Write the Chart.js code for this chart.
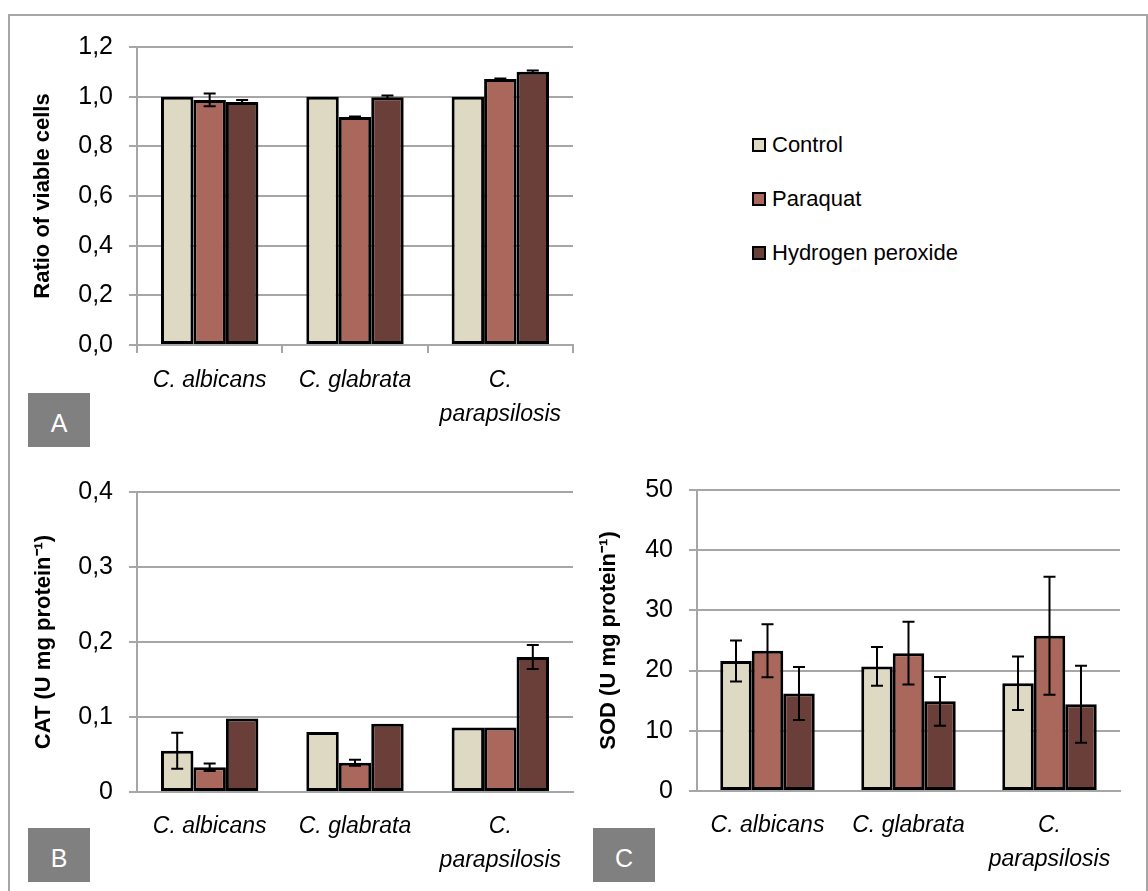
<!DOCTYPE html>
<html>
<head>
<meta charset="utf-8">
<script src="https://cdn.jsdelivr.net/npm/chart.js@4.4.1/dist/chart.umd.min.js"></script>
<style>
    body { margin: 0; background: #fff; width: 1148px; height: 891px; overflow: hidden; position: relative; font-family: "Liberation Sans", Arial, sans-serif; }
    .frame { position: absolute; left: 8px; top: 14px; width: 1136px; height: 900px; border: 2px solid #a6a6a6; }
    .panel { position: absolute; width: 62px; height: 54px; background: #808080; color: #fff; font-size: 25px; line-height: 60px; text-align: center; }
    canvas { position: absolute; }
    .legend { position: absolute; left: 752px; top: 131px; font-size: 22px; color: #000; }
    .legend div { height: 54px; line-height: 28px; }
    .legend span { display: inline-block; width: 10px; height: 10px; border: 2px solid #000; margin-right: 6px; vertical-align: 0px; }
</style>
</head>
<body>
<div class="frame"></div>
<canvas id="chartA" width="580" height="423" style="left:10px;top:16px"></canvas>
<canvas id="chartB" width="580" height="424" style="left:10px;top:461px"></canvas>
<canvas id="chartC" width="550" height="426" style="left:590px;top:459px"></canvas>
<div class="legend" id="legend"></div>
<div class="panel" style="left:28px;top:393px">A</div>
<div class="panel" style="left:28px;top:828px">B</div>
<div class="panel" style="left:593px;top:828px">C</div>
<script>
var categories = ['C. albicans', 'C. glabrata', ['C.', 'parapsilosis']]
var seriesNames = ['Control', 'Paraquat', 'Hydrogen peroxide']
var seriesColors = ['#ddd9c3', '#aa675b', '#6b3f39']

// A - ratio of viable cells
var viableControl = [1.0, 1.0, 1.0]
var viableParaquat = [0.987, 0.918, 1.071]
var viablePeroxide = [0.979, 0.998, 1.100]
var viableControlErr = [0, 0, 0]
var viableParaquatErr = [0.026, 0.002, 0.002]
var viablePeroxideErr = [0.008, 0.007, 0.005]

// B - CAT activity
var catControl = [0.055, 0.080, 0.086]
var catParaquat = [0.033, 0.039, 0.086]
var catPeroxide = [0.098, 0.091, 0.180]
var catControlErr = [0.024, 0, 0]
var catParaquatErr = [0.005, 0.004, 0]
var catPeroxideErr = [0, 0, 0.016]

// C - SOD activity
var sodControl = [21.6, 20.7, 17.9]
var sodParaquat = [23.3, 22.9, 25.8]
var sodPeroxide = [16.2, 14.9, 14.4]
var sodControlErr = [3.4, 3.2, 4.45]
var sodParaquatErr = [4.4, 5.2, 9.8]
var sodPeroxideErr = [4.4, 4.05, 6.4]

var gridColor = '#a6a6a6'
var fontFamily = '"Liberation Sans", Arial, sans-serif'

var errorBarPlugin = {
    id: 'errorBars',
    afterDatasetsDraw: function (chart) {
        var ctx = chart.ctx
        var yScale = chart.scales.y
        chart.data.datasets.forEach(function (ds, di) {
            chart.getDatasetMeta(di).data.forEach(function (bar, i) {
                var err = ds.errors[i]
                if (!err) return
                var top = yScale.getPixelForValue(ds.data[i] + err)
                var bottom = yScale.getPixelForValue(ds.data[i] - err)
                ctx.save()
                ctx.strokeStyle = '#000'
                ctx.lineWidth = 2
                ctx.beginPath()
                ctx.moveTo(bar.x, top); ctx.lineTo(bar.x, bottom)
                ctx.moveTo(bar.x - 6, top); ctx.lineTo(bar.x + 6, top)
                ctx.moveTo(bar.x - 6, bottom); ctx.lineTo(bar.x + 6, bottom)
                ctx.stroke()
                ctx.restore()
            })
        })
    }
}

function makeChart(id, values, errors, cfg) {
    var datasets = values.map(function (v, i) {
        return {
            label: seriesNames[i],
            data: v,
            errors: errors[i],
            backgroundColor: seriesColors[i],
            borderColor: '#000',
            borderWidth: 3,
            borderSkipped: false,
            categoryPercentage: 0.67,
            barPercentage: 1.0
        }
    })
    return new Chart(document.getElementById(id).getContext('2d'), {
        type: 'bar',
        data: { labels: categories, datasets: datasets },
        plugins: [errorBarPlugin],
        options: {
            responsive: false,
            animation: false,
            layout: { padding: { left: 0, top: 0, right: cfg.right, bottom: 0 } },
            plugins: { legend: { display: false }, tooltip: { enabled: false } },
            scales: {
                x: {
                    grid: cfg.xTicks
                        ? { display: true, drawOnChartArea: false, drawTicks: true, tickLength: 8, color: gridColor, lineWidth: 2, offset: true }
                        : { display: false, drawTicks: false },
                    border: { display: true, color: gridColor, width: 2 },
                    ticks: {
                        autoSkip: false, maxRotation: 0, color: '#000', padding: cfg.xPad,
                        font: { family: fontFamily, size: 23, style: 'italic', lineHeight: 1.5 }
                    },
                    afterFit: function (scale) { scale.height = cfg.xHeight }
                },
                y: {
                    min: cfg.min, max: cfg.max,
                    grid: { color: gridColor, lineWidth: 2, tickLength: 8 },
                    border: { display: true, color: gridColor, width: 2 },
                    ticks: {
                        stepSize: cfg.step, color: '#000', padding: 16,
                        font: { family: fontFamily, size: 25 },
                        callback: cfg.format
                    },
                    title: {
                        display: true, text: cfg.title, color: '#000',
                        font: { family: fontFamily, size: 22, weight: 'bold', lineHeight: 1.2 },
                        padding: { top: cfg.titlePad, bottom: 0 }
                    },
                    afterFit: function (scale) { scale.width = cfg.yWidth }
                }
            }
        }
    })
}

makeChart('chartA',
    [viableControl, viableParaquat, viablePeroxide],
    [viableControlErr, viableParaquatErr, viablePeroxideErr],
    {
        right: 17, yWidth: 127, xHeight: 94, min: 0, max: 1.2, step: 0.2, xTicks: true, xPad: 10, titlePad: 20,
        title: 'Ratio of viable cells',
        format: function (v) { return v.toFixed(1).replace('.', ',') }
    })

makeChart('chartB',
    [catControl, catParaquat, catPeroxide],
    [catControlErr, catParaquatErr, catPeroxideErr],
    {
        right: 17, yWidth: 127, xHeight: 93, min: 0, max: 0.4, step: 0.1, xTicks: false, xPad: 17, titlePad: 21,
        title: 'CAT (U mg protein\u207B\u00B9)',
        format: function (v) { return v === 0 ? '0' : v.toFixed(1).replace('.', ',') }
    })

makeChart('chartC',
    [sodControl, sodParaquat, sodPeroxide],
    [sodControlErr, sodParaquatErr, sodPeroxideErr],
    {
        right: 20, yWidth: 107, xHeight: 94, min: 0, max: 50, step: 10, xTicks: false, xPad: 17, titlePad: 6,
        title: 'SOD (U mg protein\u207B\u00B9)',
        format: function (v) { return String(v) }
    })

var legendEl = document.getElementById('legend')
seriesNames.forEach(function (name, i) {
    var row = document.createElement('div')
    var swatch = document.createElement('span')
    swatch.style.background = seriesColors[i]
    row.appendChild(swatch)
    row.appendChild(document.createTextNode(name))
    legendEl.appendChild(row)
})
</script>
</body>
</html>
